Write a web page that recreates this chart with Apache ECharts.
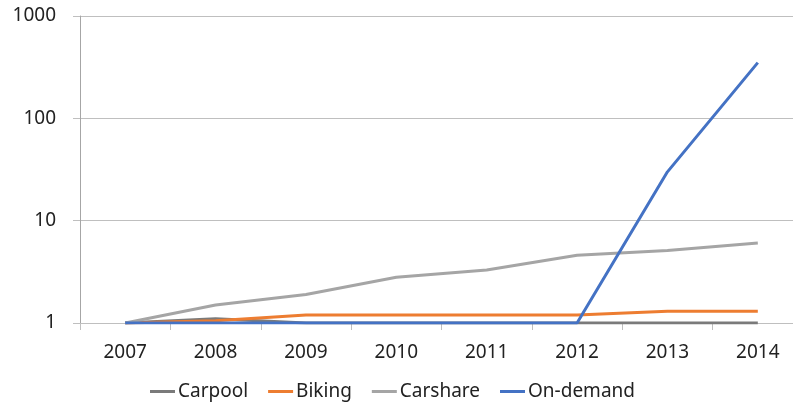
<!DOCTYPE html>
<html>
<head>
<meta charset="utf-8">
<script src="https://cdn.jsdelivr.net/npm/echarts@6/dist/echarts.min.js"></script>
<style>
  html, body { margin: 0; padding: 0; background: #ffffff; }
  #chart { width: 793px; height: 410px; }
</style>
</head>
<body>
<div id="chart"></div>
<script>
// values (log scale, base 10)
const years = ['2007', '2008', '2009', '2010', '2011', '2012', '2013', '2014'];
const carpool = [1, 1.1, 1, 1, 1, 1, 1, 1];
const biking = [1, 1.05, 1.2, 1.2, 1.2, 1.2, 1.3, 1.3];
const carshare = [1, 1.5, 1.9, 2.8, 3.3, 4.6, 5.1, 6.05];
const onDemand = [1, 1, 1, 1, 1, 1, 30, 350];

const FONT = 'Noto Sans';
const TEXT = '#222222';

function lineSeries(name, data, color) {
  return {
    type: 'line',
    name: name,
    data: data,
    symbol: 'none',
    showSymbol: false,
    lineStyle: { color: color, width: 3 },
    itemStyle: { color: color },
    animation: false
  };
}

const chart = echarts.init(document.getElementById('chart'));
chart.setOption({
  animation: false,
  backgroundColor: '#ffffff',
  textStyle: { fontFamily: FONT },
  grid: {
    left: 80, top: 16, width: 723, height: 307,
    containLabel: false,
    outerBoundsMode: 'none'
  },
  legend: {
    bottom: 4,
    left: 145,
    icon: 'rect',
    itemWidth: 25,
    itemHeight: 3,
    itemGap: 20,
    textStyle: { fontFamily: FONT, fontSize: 19, color: TEXT, padding: [0, 0, 0, -2] },
    data: ['Carpool', 'Biking', 'Carshare', 'On-demand']
  },
  xAxis: {
    type: 'category',
    data: years,
    boundaryGap: true,
    axisLine: { show: true, lineStyle: { color: '#bfbfbf', width: 1 } },
    axisTick: { show: true, length: 7, lineStyle: { color: '#bfbfbf' } },
    axisLabel: { color: TEXT, fontFamily: FONT, fontSize: 19, margin: 20 },
    splitLine: { show: false }
  },
  yAxis: {
    type: 'log',
    logBase: 10,
    min: 1,
    max: 1000,
    axisLine: { show: true, lineStyle: { color: '#a6a6a6', width: 1 } },
    axisTick: { show: true, inside: false, length: 7, lineStyle: { color: '#bfbfbf' } },
    axisLabel: {
      color: TEXT, fontFamily: FONT, fontSize: 19, margin: 24,
      formatter: (v) => String(Math.round(v))
    },
    splitLine: { show: true, lineStyle: { color: '#bfbfbf', width: 1 } },
    minorTick: { show: false },
    minorSplitLine: { show: false }
  },
  series: [
    lineSeries('Carpool', carpool, '#7a7a7a'),
    lineSeries('Biking', biking, '#ed7d31'),
    lineSeries('Carshare', carshare, '#a5a5a5'),
    lineSeries('On-demand', onDemand, '#4472c4')
  ]
});
</script>
</body>
</html>
